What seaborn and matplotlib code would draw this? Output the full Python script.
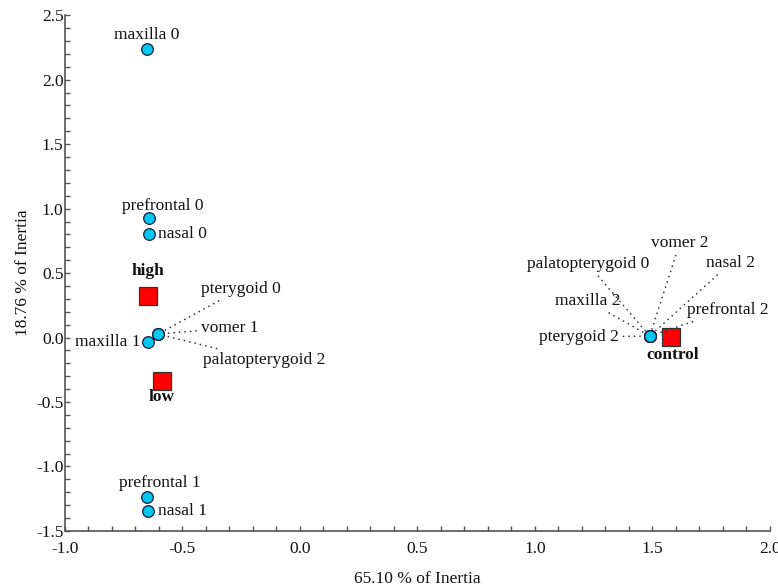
import numpy as np
import pandas as pd
import matplotlib
matplotlib.use("Agg")
import matplotlib.pyplot as plt
import seaborn as sns
from matplotlib.ticker import MultipleLocator

# ------------------ data ------------------ #
row_names = ['maxilla 0', 'prefrontal 0', 'nasal 0', 'maxilla 1', 'pterygoid 0',
             'vomer 1', 'palatopterygoid 2', 'prefrontal 1', 'nasal 1',
             'palatopterygoid 0', 'vomer 2', 'nasal 2', 'maxilla 2',
             'prefrontal 2', 'pterygoid 2']
row_x = [-0.651, -0.643, -0.643, -0.647, -0.605, -0.605, -0.605, -0.651, -0.647,
         1.489, 1.489, 1.489, 1.489, 1.489, 1.489]
row_y = [2.236, 0.926, 0.802, -0.035, 0.027, 0.027, 0.027, -1.236, -1.345,
         0.012, 0.012, 0.012, 0.012, 0.012, 0.012]

col_names = ['high', 'low', 'control']
col_x = [-0.647, -0.587, 1.579]
col_y = [0.322, -0.337, 0.004]

x_label = '65.10 % of Inertia'
y_label = '18.76 % of Inertia'

rows = pd.DataFrame({'name': row_names, 'x': row_x, 'y': row_y})
cols = pd.DataFrame({'name': col_names, 'x': col_x, 'y': col_y})

# label offsets in pixels: (dx, dy, ha, leader line)
row_offsets = {
    'maxilla 0': (0, 14, 'center', False),
    'prefrontal 0': (14, 12, 'center', False),
    'nasal 0': (9, 0, 'left', False),
    'maxilla 1': (-7, 0, 'right', False),
    'prefrontal 1': (13, 14, 'center', False),
    'nasal 1': (10, 0, 'left', False),
    'pterygoid 0': (43, 45, 'left', True),
    'vomer 1': (43, 6, 'left', True),
    'palatopterygoid 2': (45, -26, 'left', True),
    'pterygoid 2': (-31, -1, 'right', True),
    'maxilla 2': (-29, 35, 'right', True),
    'palatopterygoid 0': (-62, 72, 'center', True),
    'vomer 2': (30, 93, 'center', True),
    'nasal 2': (81, 73, 'center', True),
    'prefrontal 2': (37, 26, 'left', True),
}
col_offsets = {'high': (0, 25), 'low': (0, -16), 'control': (2, -18)}

# ------------------ plot ------------------ #
sns.set_style('ticks')
plt.rcParams['font.family'] = ['Liberation Serif', 'DejaVu Serif']
plt.rcParams['axes.unicode_minus'] = False

fig = plt.figure(figsize=(7.78, 5.86), dpi=100)
ax = fig.add_axes([0.0835, 0.094, 0.906, 0.880])

sns.scatterplot(data=rows, x='x', y='y', ax=ax, color='#00C8F0', edgecolor='#1a1a40',
                linewidth=0.9, s=70, marker='o', zorder=3)
sns.scatterplot(data=cols, x='x', y='y', ax=ax, color='#FF0000', edgecolor='#333333',
                linewidth=0.9, s=170, marker='s', zorder=3)

fs = 12.5
for _, r in rows.iterrows():
    dx, dy, ha, leader = row_offsets[r['name']]
    arrow = dict(arrowstyle='-', linestyle=(0, (0.1, 3.2)), capstyle='round',
                 color='#333333', lw=1.2, shrinkA=1, shrinkB=5) if leader else None
    ax.annotate(r['name'], (r['x'], r['y']), xytext=(dx, dy), textcoords='offset pixels',
                ha=ha, va='center', fontsize=fs, color='#111111', arrowprops=arrow)

for _, c in cols.iterrows():
    dx, dy = col_offsets[c['name']]
    ax.annotate(c['name'], (c['x'], c['y']), xytext=(dx, dy), textcoords='offset pixels',
                ha='center', va='center', fontsize=fs, fontweight='bold', color='#111111')

ax.set_xlim(-1.0, 2.0)
ax.set_ylim(-1.5, 2.5)
ax.xaxis.set_major_locator(MultipleLocator(0.5))
ax.xaxis.set_minor_locator(MultipleLocator(0.1))
ax.yaxis.set_major_locator(MultipleLocator(0.5))
ax.yaxis.set_minor_locator(MultipleLocator(0.1))
ax.tick_params(which='both', direction='in', length=3.8, width=1, color='#555555',
               labelsize=fs, labelcolor='#111111')
ax.tick_params(axis='x', pad=7)
ax.tick_params(axis='y', pad=1)
ax.set_xticklabels([f'{v:.1f}' for v in ax.get_xticks()])
ax.set_yticklabels([f'{v:.1f}' for v in ax.get_yticks()])

sns.despine(ax=ax)
for side in ['left', 'bottom']:
    ax.spines[side].set_color('#555555')
    ax.spines[side].set_linewidth(1.2)

ax.set_xlabel(x_label, fontsize=fs, color='#111111', labelpad=10)
ax.set_ylabel(y_label, fontsize=fs, color='#111111', labelpad=4)

fig.savefig('out.png', dpi=100)
